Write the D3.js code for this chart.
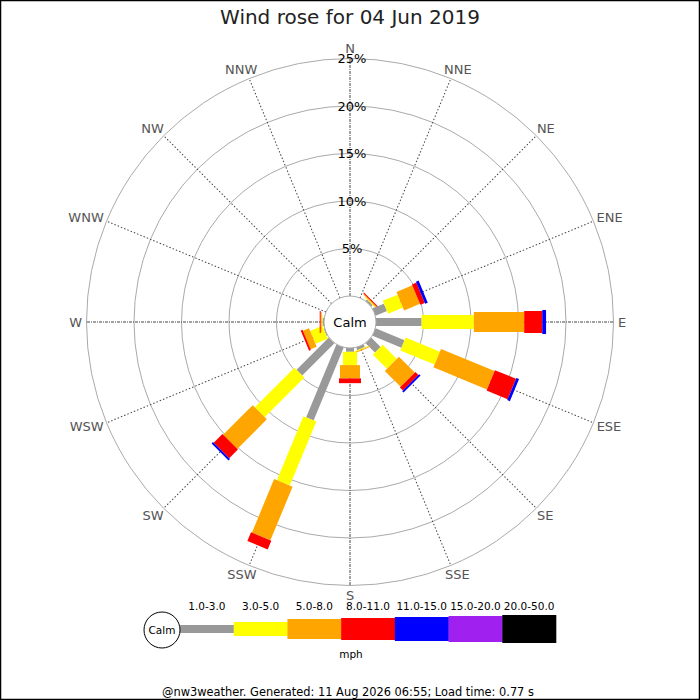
<!DOCTYPE html>
<html><head><meta charset="utf-8">
<script src="https://cdn.jsdelivr.net/npm/d3@7"></script>
<style>
body{margin:0;background:#fff}
svg{display:block}
text{font-family:"DejaVu Sans",sans-serif}
</style>
</head><body>
<svg id="chart" width="700" height="700"></svg>
<script>
// ---- data ----
const directions = ["N","NNE","NE","ENE","E","ESE","SE","SSE","S","SSW","SW","WSW","W","WNW","NW","NNW"];
const speedBins = ["1.0-3.0","3.0-5.0","5.0-8.0","8.0-11.0","11.0-15.0","15.0-20.0","20.0-50.0"];
const binColors = ["#999999","#ffff00","#ffa500","#ff0000","#0000ff","#a020f0","#000000"];
// percentage of time per speed bin, in direction order N..NNW
const bin1to3   = [0, 0, 0.2, 1.3, 4.8, 3.3, 1.4,  0.3, 0.4, 8.3, 4.8, 0.1, 0.15, 0, 0, 0];
const bin3to5   = [0, 0, 0.1, 1.7, 5.5, 3.9, 2.1,  0.1, 1.4, 7.3, 5.9, 1.4, 0.1,  0, 0, 0];
const bin5to8   = [0, 0, 0.1, 1.8, 5.3, 6.1, 2.35, 0.1, 1.4, 6.1, 4.4, 0.7, 0.1,  0, 0, 0];
const bin8to11  = [0, 0, 0.1, 0.5, 1.9, 2.4, 0.45, 0,   0.5, 1.0, 1.3, 0.2, 0.1,  0, 0, 0];
const bin11to15 = [0, 0, 0,   0.3, 0.4, 0.3, 0.2,  0,   0,   0,   0.2, 0,   0,    0, 0, 0];
const bin15to20 = [0, 0, 0,   0,   0,   0,   0,    0,   0,   0,   0,   0,   0,    0, 0, 0];
const bin20to50 = [0, 0, 0,   0,   0,   0,   0,    0,   0,   0,   0,   0,   0,    0, 0, 0];
const ringTicks = [5, 10, 15, 20, 25];
const titleText = "Wind rose for 04 Jun 2019";
const footerText = "@nw3weather. Generated: 11 Aug 2026 06:55; Load time: 0.77 s";

const series = [bin1to3, bin3to5, bin5to8, bin8to11, bin11to15, bin15to20, bin20to50];
const barWidths = [8, 14, 20, 22, 24, 26, 28];

// ---- layout ----
const svg = d3.select("#chart");
const cx = 350, cy = 322, calmR = 26, outerR = 263.5;
const r = d3.scaleLinear().domain([0, 25]).range([calmR, outerR]);
const angle = d3.scalePoint().domain(directions).range([0, 337.5]);

svg.append("rect").attr("x", 0.5).attr("y", 0.5).attr("width", 699).attr("height", 699)
  .attr("fill", "#fff").attr("stroke", "#000").attr("stroke-width", 1.5);

svg.append("text").attr("x", 350).attr("y", 24).attr("text-anchor", "middle")
  .attr("font-size", 20).attr("fill", "#222").text(titleText);

const g = svg.append("g").attr("transform", `translate(${cx},${cy})`);

// rings
g.selectAll("circle.ring").data(ringTicks).join("circle")
  .attr("class", "ring").attr("r", d => r(d))
  .attr("fill", "none").attr("stroke", "#aaa").attr("stroke-width", 1);

// direction lines
g.selectAll("line.dir").data(directions).join("line")
  .attr("class", "dir")
  .attr("transform", d => `rotate(${angle(d)})`)
  .attr("x1", 0).attr("x2", 0).attr("y1", -calmR).attr("y2", -outerR)
  .attr("stroke", "#444").attr("stroke-width", 1)
  .attr("stroke-dasharray", (d, i) => i % 4 === 0 ? "3,1,1,1" : "1.5,2");

// bars
directions.forEach((dir, i) => {
  const dg = g.append("g").attr("transform", `rotate(${angle(dir)})`);
  let cum = 0;
  series.forEach((s, j) => {
    const v = s[i];
    if (v > 0) {
      const r0 = r(cum), r1 = r(cum + v);
      dg.append("rect")
        .attr("x", -barWidths[j] / 2).attr("width", barWidths[j])
        .attr("y", -r1).attr("height", r1 - r0)
        .attr("fill", binColors[j]);
    }
    cum += v;
  });
});

// calm circle
g.append("circle").attr("r", calmR).attr("fill", "#fff").attr("stroke", "#aaa");
g.append("text").attr("y", 0).attr("dy", "0.35em").attr("text-anchor", "middle")
  .attr("font-size", 13).attr("fill", "#000").text("Calm");

// percent labels
g.selectAll("text.pct").data(ringTicks).join("text")
  .attr("class", "pct").attr("x", 2).attr("y", d => -r(d)).attr("dy", "0.35em")
  .attr("text-anchor", "middle").attr("font-size", 13).attr("fill", "#000")
  .text(d => d + "%");

// direction labels
const labR = 268;
g.selectAll("text.dirlab").data(directions).join("text")
  .attr("class", "dirlab").attr("text-anchor", "middle").attr("dy", "0.35em")
  .attr("font-size", 13).attr("fill", "#555").text(d => d)
  .each(function (d) {
    const a = angle(d) * Math.PI / 180;
    const w = this.getComputedTextLength();
    const s = Math.sin(a), c = Math.cos(a);
    d3.select(this)
      .attr("x", labR * s + (w / 2) * s)
      .attr("y", -labR * c - 5.5 * c);
  });

// ---- legend ----
const lx = d3.scaleBand().domain(speedBins).range([180, 556]);
const ly = 629;
const leg = svg.append("g");
leg.selectAll("rect").data(speedBins).join("rect")
  .attr("x", d => lx(d)).attr("width", lx.bandwidth() + 0.3)
  .attr("y", (d, i) => ly - barWidths[i] / 2).attr("height", (d, i) => barWidths[i])
  .attr("fill", (d, i) => binColors[i]);
leg.selectAll("text.lab").data(speedBins).join("text")
  .attr("class", "lab").attr("x", d => lx(d) + lx.bandwidth() / 2).attr("y", 610)
  .attr("text-anchor", "middle").attr("font-size", 10.5).attr("fill", "#000").text(d => d);
leg.append("circle").attr("cx", 162).attr("cy", 630).attr("r", 18)
  .attr("fill", "#fff").attr("stroke", "#000");
leg.append("text").attr("x", 162).attr("y", 630).attr("dy", "0.35em").attr("text-anchor", "middle")
  .attr("font-size", 10.5).attr("fill", "#000").text("Calm");
leg.append("text").attr("x", 351).attr("y", 658).attr("text-anchor", "middle")
  .attr("font-size", 10.5).attr("fill", "#000").text("mph");

svg.append("text").attr("x", 348).attr("y", 696).attr("text-anchor", "middle")
  .attr("font-size", 11.4).attr("fill", "#000").text(footerText);
</script>
</body></html>
